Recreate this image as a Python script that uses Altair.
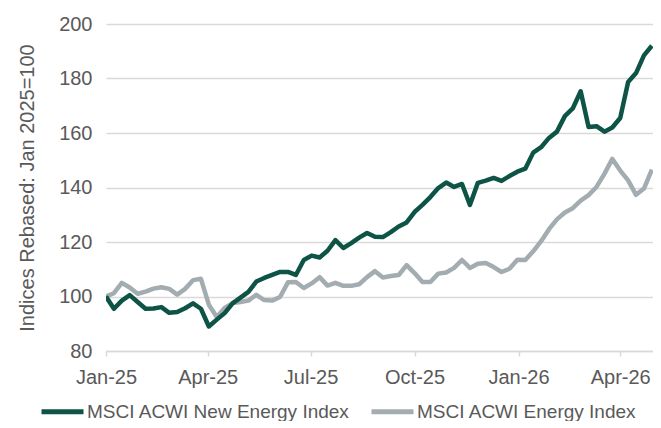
import altair as alt
import pandas as pd

# Weekly observations, Jan 2025 - Apr 2026 (rebased Jan 2025 = 100)
dates = pd.date_range("2025-01-01", periods=70, freq="7D")

new_energy = [
    100, 95.5, 98.5, 100.5, 98, 95.5, 95.6, 96.1, 94, 94.3,
    95.7, 97.5, 95.5, 89, 91.5, 93.9, 97.5, 99.6, 101.7, 105.5,
    106.8, 107.9, 109, 109, 107.9, 113.4, 115, 114.3, 116.8, 120.7,
    117.8, 119.6, 121.6, 123.3, 121.9, 121.8, 123.6, 125.7, 127.2, 131,
    133.6, 136.5, 139.8, 141.8, 140.2, 141.3, 133.6, 141.7, 142.5, 143.5,
    142.4, 144.2, 145.8, 146.9, 152.8, 154.8, 158.2, 160.5, 166.2, 169,
    175.3, 162.2, 162.5, 160.5, 162, 165.5, 178.7, 182, 188.5, 192,
]

energy = [
    100, 101.2, 105, 103.3, 101, 101.8, 102.9, 103.4, 102.8, 100.7,
    102.8, 106, 106.5, 97, 92.5, 95.8, 97.6, 98, 98.5, 100.6,
    98.7, 98.5, 99.8, 105.2, 105.3, 103.1, 104.8, 107.1, 104, 105,
    103.9, 103.9, 104.5, 107.1, 109.3, 107, 107.5, 107.9, 111.5, 108.6,
    105.3, 105.3, 108.4, 108.8, 110.5, 113.4, 110.5, 112, 112.3, 110.8,
    109, 110.2, 113.5, 113.4, 116.6, 120.3, 124.7, 128.3, 130.8, 132.4,
    135.2, 137.2, 140.2, 145, 150.5, 146.2, 142.6, 137.3, 139.6, 146.6,
]

series_names = ["MSCI ACWI New Energy Index", "MSCI ACWI Energy Index"]
series_colors = ["#0d5446", "#a3adb1"]

df = pd.DataFrame({
    "date": list(dates) * 2,
    "value": new_energy + energy,
    "series": [series_names[0]] * len(new_energy) + [series_names[1]] * len(energy),
})

x_ticks = [alt.DateTime(year=2025, month=m, date=1) for m in (1, 4, 7, 10)] + \
          [alt.DateTime(year=2026, month=m, date=1) for m in (1, 4)]

FONT = "Liberation Sans"
GREY_TXT = "#595959"
FS = 20

x_enc = alt.X(
    "date:T",
    scale=alt.Scale(domain=[alt.DateTime(year=2025, month=1, date=1),
                            alt.DateTime(year=2026, month=4, date=30)]),
    axis=alt.Axis(values=x_ticks, format="%b-%y", title=None, grid=False,
                  tickSize=5, tickColor="#d9d9d9", tickWidth=1.5,
                  domainColor="#d9d9d9", domainWidth=1.5,
                  labelPadding=11, labelFlush=False),
)
y_enc = alt.Y(
    "value:Q",
    scale=alt.Scale(domain=[80, 200], nice=False, zero=False),
    axis=alt.Axis(values=[80, 100, 120, 140, 160, 180, 200], title="Indices Rebased: Jan 2025=100",
                  ticks=False, domain=False, gridColor="#d9d9d9", gridWidth=1.5,
                  labelPadding=14, titlePadding=21),
)
color_enc = alt.Color(
    "series:N",
    scale=alt.Scale(domain=series_names, range=series_colors),
    legend=alt.Legend(orient="none", legendX=-67, legendY=364, direction="horizontal",
                      title=None, symbolType="stroke", symbolSize=1764, symbolStrokeWidth=5,
                      labelFontSize=19, labelColor=GREY_TXT, labelFont=FONT,
                      columnPadding=11, labelOffset=1, padding=0, labelLimit=400),
)

base = alt.Chart(df).mark_line(strokeWidth=4.5, clip=True, strokeJoin="round").encode(
    x=x_enc, y=y_enc, color=color_enc
)

grey_line = base.transform_filter(alt.datum.series == series_names[1])
green_line = base.transform_filter(alt.datum.series == series_names[0])

chart = alt.layer(grey_line, green_line).properties(
    width=547, height=327,
    autosize=alt.AutoSizeParams(type="none"),
    padding={"left": 98, "top": 16, "right": 0, "bottom": 70},
).configure_view(stroke=None).configure_axis(
    labelFont=FONT, labelFontSize=FS, labelColor=GREY_TXT,
    titleFont=FONT, titleFontSize=FS, titleColor=GREY_TXT, titleFontWeight="normal",
)

chart.save("out.html", embed_options={"renderer": "svg", "actions": False})
